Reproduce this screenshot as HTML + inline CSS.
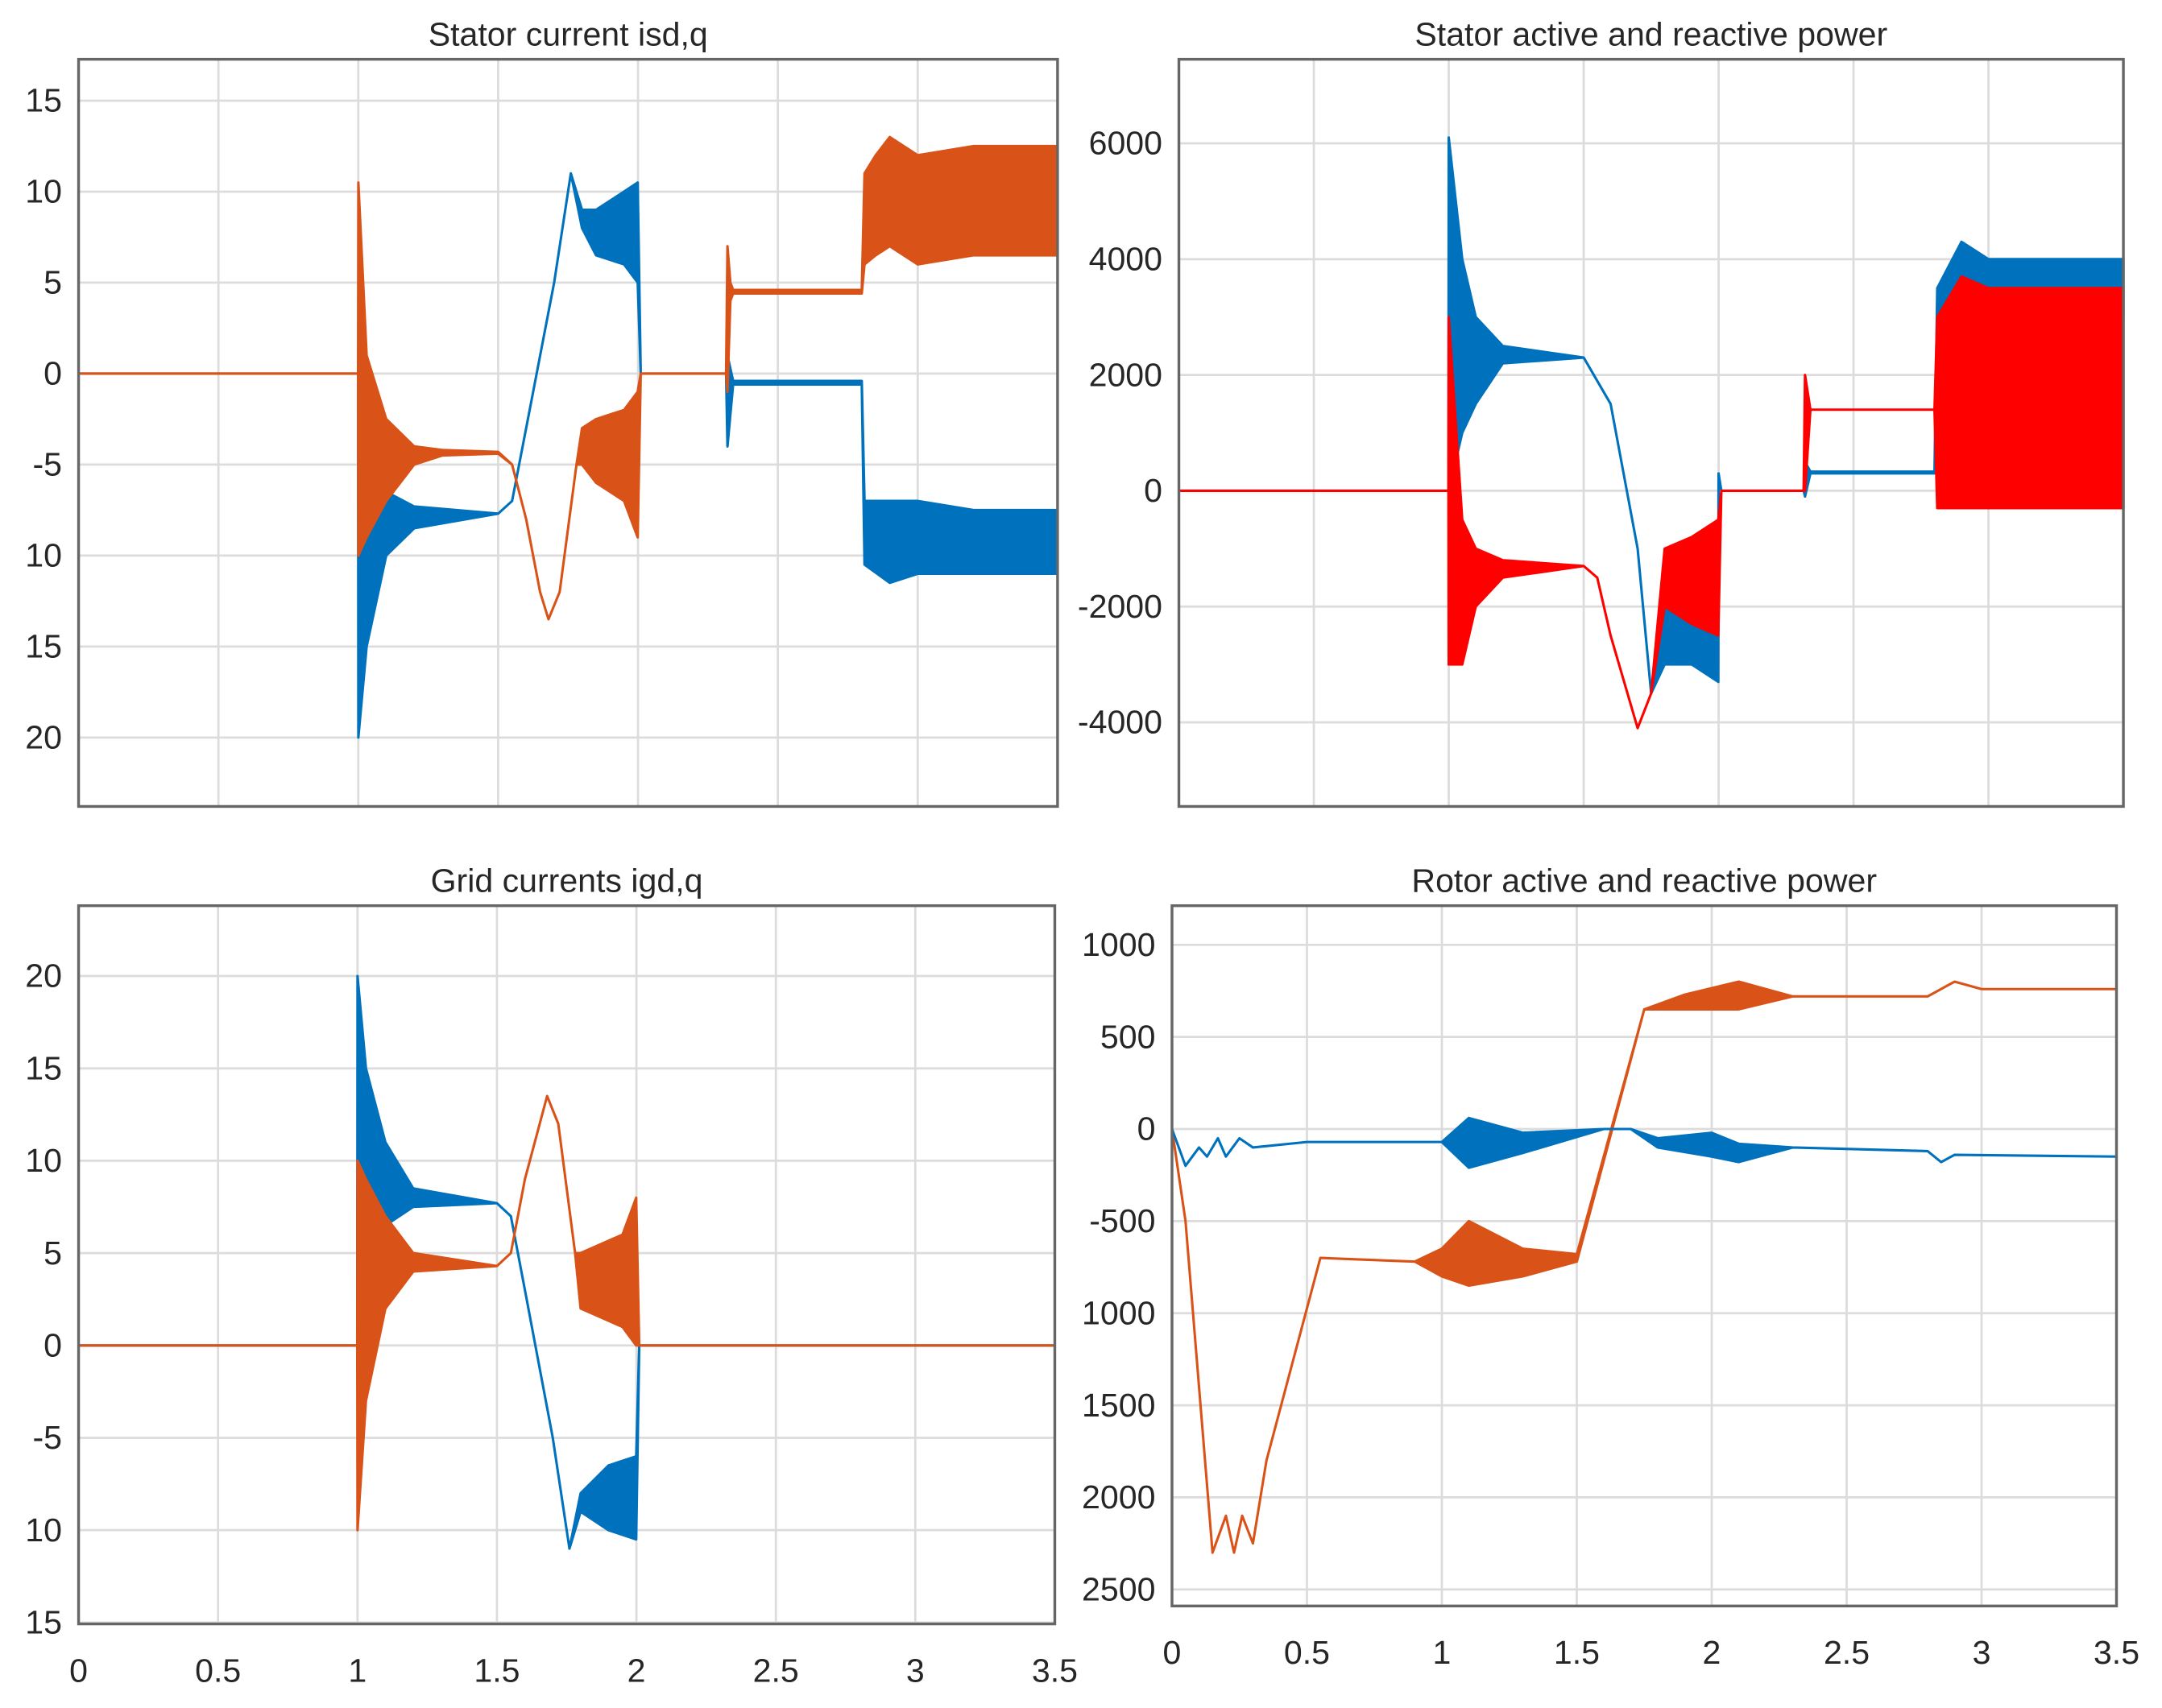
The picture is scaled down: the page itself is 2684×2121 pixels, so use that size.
<!DOCTYPE html>
<html><head><meta charset="utf-8"><style>
html,body{margin:0;padding:0;background:#fff;}
svg{display:block;}
text{font-family:"Liberation Sans",sans-serif;fill:#262626;}
</style></head><body>
<svg id="fig" xmlns="http://www.w3.org/2000/svg" width="2684" height="2121" viewBox="0 0 1568 1239" preserveAspectRatio="none"></svg>
<script>
// ---- data: stator current isd,q ----
const scT_o=[0,0.999,1.0,1.03,1.1,1.2,1.3,1.5,1.55,1.6,1.65,1.68,1.72,1.78,1.8,1.85,1.95,1.999,2.01,2.315,2.32,2.33,2.34,2.8,2.81,2.85,2.9,3.0,3.2,3.5];
const scH_o=[0,0,10.5,1,-2.5,-4,-4.2,-4.3,-5,-8,-12,-13.5,-12,-5,-3,-2.5,-2,-1,0,0,7,5,4.6,4.6,11,12,13,12,12.5,12.5];
const scL_o=[0,0,-10,-9,-7,-5,-4.5,-4.4,-5,-8,-12,-13.5,-12,-5,-5,-6,-7,-9,0,0,-1,4,4.4,4.4,6,6.5,7,6,6.5,6.5];
const scT_b=[0,0.999,1.0,1.03,1.1,1.2,1.5,1.55,1.6,1.7,1.76,1.8,1.85,1.95,1.999,2.01,2.315,2.32,2.34,2.8,2.81,2.9,3.0,3.2,3.5];
const scH_b=[0,0,0,-5,-6.5,-7.3,-7.7,-7,-3,5,11,9,9,10,10.5,0,0,1,-0.4,-0.4,-7,-7,-7,-7.5,-7.5];
const scL_b=[0,0,-20,-15,-10,-8.5,-7.7,-7,-3,5,11,8,6.5,6,5,0,0,-4,-0.6,-0.6,-10.5,-11.5,-11,-11,-11];
// ---- data: stator active/reactive power ----
const spT_p=[0,0.999,1.0,1.05,1.1,1.2,1.5,1.6,1.7,1.75,1.8,1.9,1.999,2.0,2.01,2.315,2.32,2.34,2.8,2.81,2.9,3.0,3.5];
const spH_p=[0,0,6100,4000,3000,2500,2300,1500,-1000,-3500,-2000,-1800,-1500,300,0,0,500,330,330,3500,4300,4000,4000];
const spL_p=[0,0,0,1000,1500,2200,2300,1500,-1000,-3500,-3000,-3000,-3300,300,0,0,-100,300,300,2500,3000,3000,3000];
const spT_q=[0,0.999,1.0,1.05,1.1,1.2,1.5,1.55,1.6,1.7,1.75,1.8,1.9,1.999,2.01,2.315,2.32,2.34,2.8,2.81,2.9,3.0,3.5];
const spH_q=[0,0,3000,-500,-1000,-1200,-1300,-1500,-2500,-4100,-3500,-1000,-800,-500,0,0,2000,1400,1400,3000,3700,3500,3500];
const spL_q=[0,0,-3000,-3000,-2000,-1500,-1300,-1500,-2500,-4100,-3500,-2000,-2300,-2500,0,0,0,1400,1400,-300,-300,-300,-300];
// ---- data: grid currents igd,q ----
const gcT_o=[0,0.999,1.0,1.03,1.1,1.2,1.5,1.55,1.6,1.68,1.72,1.78,1.8,1.95,1.999,2.01,3.5];
const gcH_o=[0,0,10,9,7,5,4.3,5,9,13.5,12,5,5,6,8,0,0];
const gcL_o=[0,0,-10,-3,2,4,4.3,5,9,13.5,12,5,2,1,0,0,0];
const gcT_b=[0,0.999,1.0,1.03,1.1,1.2,1.5,1.55,1.6,1.7,1.76,1.8,1.9,1.999,2.01,3.5];
const gcH_b=[0,0,20,15,11,8.5,7.7,7,3,-5,-11,-8,-6.5,-6,0,0];
const gcL_b=[0,0,0,5,6.5,7.5,7.7,7,3,-5,-11,-9,-10,-10.5,0,0];
// ---- data: rotor active/reactive power ----
const rpT_o=[0,0.05,0.15,0.2,0.23,0.26,0.3,0.35,0.55,0.9,1.0,1.1,1.3,1.5,1.75,1.9,2.1,2.3,2.8,2.9,3.0,3.5];
const rpH_o=[0,-500,-2300,-2100,-2300,-2100,-2250,-1800,-700,-720,-650,-500,-650,-680,650,730,800,720,720,800,760,760];
const rpL_o=[0,-500,-2300,-2100,-2300,-2100,-2250,-1800,-700,-720,-800,-850,-800,-720,650,650,650,720,720,800,760,760];
const rpT_b=[0,0.05,0.1,0.13,0.17,0.2,0.25,0.3,0.5,1.0,1.1,1.3,1.6,1.7,1.8,2.0,2.1,2.3,2.8,2.85,2.9,3.5];
const rpH_b=[0,-200,-100,-150,-50,-150,-50,-100,-70,-70,60,-20,0,0,-50,-20,-80,-100,-120,-180,-140,-150];
const rpL_b=[0,-200,-100,-150,-50,-150,-50,-100,-70,-70,-210,-130,0,0,-100,-150,-180,-100,-120,-180,-140,-150];
// tick labels
const xTicks=[0,0.5,1,1.5,2,2.5,3,3.5];
const xTickLabels=["0","0.5","1","1.5","2","2.5","3","3.5"];
const yT1=[15,10,5,0,-5,-10,-15,-20]; const yL1=["15","10","5","0","-5","10","15","20"];
const yT2=[6000,4000,2000,0,-2000,-4000]; const yL2=["6000","4000","2000","0","-2000","-4000"];
const yT3=[20,15,10,5,0,-5,-10,-15]; const yL3=["20","15","10","5","0","-5","10","15"];
const yT4=[1000,500,0,-500,-1000,-1500,-2000,-2500]; const yL4=["1000","500","0","-500","1000","1500","2000","2500"];

const svg=document.getElementById('fig');
const NS='http://www.w3.org/2000/svg';
function mk(tag,attrs,parent){const e=document.createElementNS(NS,tag);for(const k in attrs)e.setAttribute(k,attrs[k]);parent.appendChild(e);return e;}

function panel(p){
  const g=mk('g',{},svg);
  
  
  const sx=t=>p.x0+(t-0)/(3.5)*(p.x1-p.x0);
  const sy=v=>p.yA+(v-p.vA)*(p.yB-p.yA)/(p.vB-p.vA);
  mk('rect',{x:p.x0,y:p.top,width:p.x1-p.x0,height:p.bot-p.top,fill:'#fff'},g);
  xTicks.forEach((t,i)=>{
    const l=mk('line',{x1:sx(t),x2:sx(t),y1:p.top,y2:p.bot,stroke:'#dcdcdc','stroke-width':1.6},g);
    
    
    if(p.xl){const tx=mk('text',{x:sx(t),y:p.bot+42,'font-size':24,'text-anchor':'middle'},g);tx.textContent=xTickLabels[i];
      
      }
  });
  p.yt.forEach((v,i)=>{
    const l=mk('line',{x1:p.x0,x2:p.x1,y1:sy(v),y2:sy(v),stroke:'#dcdcdc','stroke-width':1.6},g);
    
    
    const tx=mk('text',{x:p.x0-12,y:sy(v)+8,'font-size':24,'text-anchor':'end'},g);tx.textContent=p.yl[i];
    
    
  });
  p.series.forEach(s=>{
    let d='';
    s.t.forEach((t,i)=>{d+=(i?'L':'M')+sx(t).toFixed(1)+','+sy(s.h[i]).toFixed(1);});
    for(let i=s.t.length-1;i>=0;i--)d+='L'+sx(s.t[i]).toFixed(1)+','+sy(s.l[i]).toFixed(1);
    d+='Z';
    const e=mk('path',{d:d,fill:s.c,stroke:s.c,'stroke-width':1.8,'stroke-linejoin':'round'},g);
    
    
  });
  const b=mk('rect',{x:p.x0,y:p.top,width:p.x1-p.x0,height:p.bot-p.top,fill:'none',stroke:'#666','stroke-width':2},g);
  
  
  const ti=mk('text',{x:(p.x0+p.x1)/2,y:p.top-10,'font-size':24,'text-anchor':'middle'},g);
  ti.textContent=p.title;
  
  
}
const O='#D95319',B='#0072BD',R='#FF0000';
panel({name:'stator-current-chart',title:'Stator current isd,q',x0:57,x1:767,top:43,bot:585,vA:0,yA:271,vB:-20,yB:535,yt:yT1,yl:yL1,xl:false,
  series:[{n:'isq-series',t:scT_b,h:scH_b,l:scL_b,c:B},{n:'isd-series',t:scT_o,h:scH_o,l:scL_o,c:O}]});
panel({name:'stator-power-chart',title:'Stator active and reactive power',x0:855,x1:1540,top:43,bot:585,vA:0,yA:356,vB:-4000,yB:524,yt:yT2,yl:yL2,xl:false,
  series:[{n:'stator-active-power-series',t:spT_p,h:spH_p,l:spL_p,c:B},{n:'stator-reactive-power-series',t:spT_q,h:spH_q,l:spL_q,c:R}]});
panel({name:'grid-currents-chart',title:'Grid currents igd,q',x0:57,x1:765,top:657,bot:1178,vA:0,yA:976,vB:-10,yB:1110,yt:yT3,yl:yL3,xl:true,
  series:[{n:'igq-series',t:gcT_b,h:gcH_b,l:gcL_b,c:B},{n:'igd-series',t:gcT_o,h:gcH_o,l:gcL_o,c:O}]});
panel({name:'rotor-power-chart',title:'Rotor active and reactive power',x0:850,x1:1535,top:657,bot:1165,vA:0,yA:819,vB:-2500,yB:1153,yt:yT4,yl:yL4,xl:true,
  series:[{n:'rotor-active-power-series',t:rpT_o,h:rpH_o,l:rpL_o,c:O},{n:'rotor-reactive-power-series',t:rpT_b,h:rpH_b,l:rpL_b,c:B}]});
</script>
</body></html>
